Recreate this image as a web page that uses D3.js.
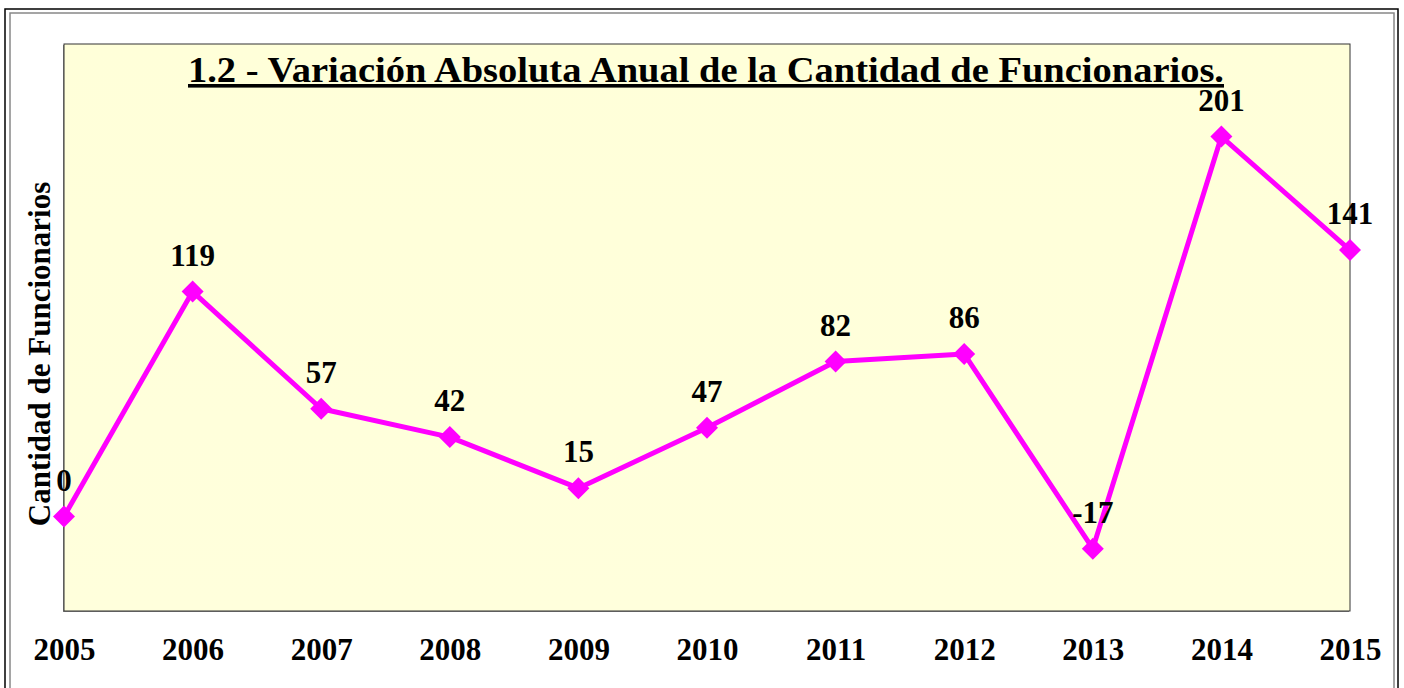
<!DOCTYPE html>
<html>
<head>
<meta charset="utf-8">
<script src="https://cdn.jsdelivr.net/npm/d3@7"></script>
<style>
  body { margin: 0; background: #fff; }
  svg { display: block; }
  text { font-family: "Liberation Serif", "Times New Roman", serif; font-weight: bold; fill: #000; }
</style>
</head>
<body>
<svg id="chart" width="1404" height="688"></svg>
<script>
// chart data
var years = ["2005","2006","2007","2008","2009","2010","2011","2012","2013","2014","2015"];
var values = [0, 119, 57, 42, 15, 47, 82, 86, -17, 201, 141];
var title = "1.2 - Variación Absoluta Anual de la Cantidad de Funcionarios.";
var yTitle = "Cantidad de Funcionarios";

var svg = d3.select("#chart");
var plot = {left: 64, top: 44, right: 1350, bottom: 611};

// outer frame (black + grey inner line)
svg.append("rect")
	.attr("x", 5).attr("y", 9).attr("width", 1393).attr("height", 700)
	.attr("fill", "none").attr("stroke", "#000").attr("stroke-width", 1.5);
svg.append("rect")
	.attr("x", 10).attr("y", 13).attr("width", 1384).attr("height", 700)
	.attr("fill", "none").attr("stroke", "#888").attr("stroke-width", 1.5);

// plot area background
var defs = svg.append("defs");
var grad = defs.append("linearGradient").attr("id", "bg")
	.attr("x1", 0).attr("y1", 0).attr("x2", 0).attr("y2", 1);
grad.append("stop").attr("offset", "0%").attr("stop-color", "#ffffd9");
grad.append("stop").attr("offset", "100%").attr("stop-color", "#ffffdc");

// shadow of plot area
svg.append("rect")
	.attr("x", plot.left - 1).attr("y", plot.top + 1)
	.attr("width", plot.right - plot.left).attr("height", plot.bottom - plot.top)
	.attr("fill", "#888");
svg.append("rect")
	.attr("x", plot.left).attr("y", plot.top)
	.attr("width", plot.right - plot.left).attr("height", plot.bottom - plot.top)
	.attr("fill", "url(#bg)").attr("stroke", "#333").attr("stroke-width", 1);

var x = d3.scalePoint().domain(years).range([plot.left, plot.right]);
var y = d3.scaleLinear().domain([-50, 250]).range([plot.bottom, plot.top]);

// x axis labels (no line, no ticks)
var xAxis = svg.append("g")
	.attr("transform", "translate(0," + plot.bottom + ")")
	.call(d3.axisBottom(x).tickSize(0).tickPadding(27));
xAxis.select(".domain").remove();
xAxis.selectAll("text")
	.attr("font-family", "Liberation Serif, serif")
	.attr("font-weight", "bold")
	.attr("font-size", "31px")
	.attr("fill", "#000");

// title
svg.append("text")
	.attr("x", 706)
	.attr("y", 82)
	.attr("text-anchor", "middle")
	.attr("font-size", "36px")
	.attr("textLength", 1036)
	.attr("lengthAdjust", "spacingAndGlyphs")
	.style("text-decoration", "underline")
	.text(title);

// y axis title
svg.append("text")
	.attr("transform", "translate(50,354) rotate(-90)")
	.attr("text-anchor", "middle")
	.attr("font-size", "31px")
	.text(yTitle);

// the line
svg.append("path")
	.datum(values)
	.attr("fill", "none")
	.attr("stroke", "#ff00ff")
	.attr("stroke-width", 5)
	.attr("stroke-linejoin", "round")
	.attr("d", d3.line()
		.x(function(d, i) { return x(years[i]); })
		.y(function(d) { return y(d); }));

// diamond markers
svg.selectAll(".pt")
	.data(values)
	.enter().append("path")
	.attr("class", "pt")
	.attr("transform", function(d, i) { return "translate(" + x(years[i]) + "," + y(d) + ")"; })
	.attr("d", "M0,-11L11,0L0,11L-11,0Z")
	.attr("fill", "#ff00ff");

// data labels
svg.selectAll(".lbl")
	.data(values)
	.enter().append("text")
	.attr("class", "lbl")
	.attr("x", function(d, i) { return x(years[i]); })
	.attr("y", function(d) { return y(d) - 26; })
	.attr("text-anchor", "middle")
	.attr("font-size", "31px")
	.text(function(d) { return d; });
</script>
</body>
</html>
